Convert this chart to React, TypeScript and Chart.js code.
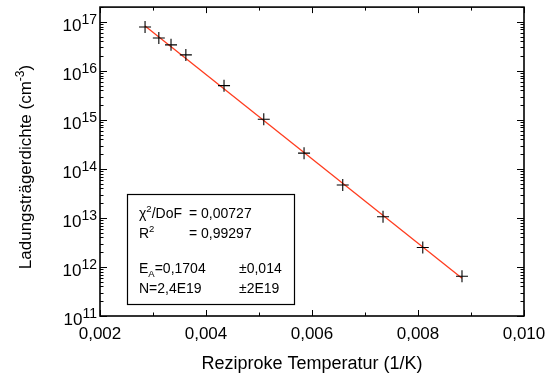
import { useEffect, useRef } from "react";
import { Chart, registerables } from "chart.js";

Chart.register(...registerables);

// Measured data (reciprocal temperature in 1/K, carrier density in cm^-3)
const reciprocalTemp = [0.00285, 0.00311, 0.00334, 0.00362, 0.00434, 0.00509, 0.00585, 0.00658, 0.00734, 0.00809, 0.00883];
const carrierDensity = [7.85e16, 4.7e16, 3.4e16, 2.12e16, 5.0e15, 1.03e15, 2.1e14, 4.7e13, 1.06e13, 2.5e12, 6.45e11];

// Fitted line endpoints
const fitX = [0.00285, 0.00883];
const fitY = [8.2e16, 5.9e11];

// Axis ticks
const xTicks = [0.002, 0.004, 0.006, 0.008, 0.01];
const xTickLabels = ["0,002", "0,004", "0,006", "0,008", "0,010"];
const xMinorTicks = [0.003, 0.005, 0.007, 0.009];
const yDecades = [11, 12, 13, 14, 15, 16, 17];

// Fit statistics box
const statLines = [
  { label: "χ|2|/DoF", value: "= 0,00727", err: "" },
  { label: "R|2|", value: "= 0,99297", err: "" },
  { label: "E_A_=0,1704", value: "", err: "±0,014" },
  { label: "N=2,4E19", value: "", err: "±2E19" },
];

const FONT = '"Liberation Sans", Arial, Helvetica, sans-serif';

type Part = { t: string; size: number; dy: number };

function parseRich(s: string, size: number): Part[] {
  // |x| = superscript, _x_ = subscript
  const parts: Part[] = [];
  const re = /\|([^|]*)\||_([^_]*)_|([^|_]+)/g;
  let m: RegExpExecArray | null;
  while ((m = re.exec(s))) {
    if (m[1] !== undefined) parts.push({ t: m[1], size: size * 0.68, dy: -size * 0.42 });
    else if (m[2] !== undefined) parts.push({ t: m[2], size: size * 0.68, dy: size * 0.25 });
    else parts.push({ t: m[3], size, dy: 0 });
  }
  return parts;
}

function drawParts(ctx: CanvasRenderingContext2D, parts: Part[], x: number, y: number) {
  let cx = x;
  for (const p of parts) {
    ctx.font = `${p.size}px ${FONT}`;
    ctx.fillText(p.t, cx, y + p.dy);
    cx += ctx.measureText(p.t).width;
  }
  return cx;
}

function partsWidth(ctx: CanvasRenderingContext2D, parts: Part[]) {
  let w = 0;
  for (const p of parts) {
    ctx.font = `${p.size}px ${FONT}`;
    w += ctx.measureText(p.t).width;
  }
  return w;
}

const decorPlugin = {
  id: "decor",
  afterDatasetsDraw(chart: any) {
    const ctx: CanvasRenderingContext2D = chart.ctx;
    const { left, right, top, bottom } = chart.chartArea;
    const xs = chart.scales.x;
    const ys = chart.scales.y;
    ctx.save();
    ctx.strokeStyle = "#000";
    ctx.fillStyle = "#000";

    // ticks
    ctx.lineWidth = 1;
    ctx.beginPath();
    const xt = (v: number, len: number) => {
      const px = Math.round(xs.getPixelForValue(v)) + 0.5;
      ctx.moveTo(px, bottom);
      ctx.lineTo(px, bottom - len);
      ctx.moveTo(px, top);
      ctx.lineTo(px, top + len);
    };
    xTicks.forEach((v) => xt(v, 6));
    xMinorTicks.forEach((v) => xt(v, 3.5));
    for (const d of yDecades) {
      for (let m = 1; m <= 9; m++) {
        const v = m * Math.pow(10, d);
        if (v > ys.max * 1.0001 || v < ys.min * 0.9999) continue;
        const py = Math.round(ys.getPixelForValue(v)) + 0.5;
        const len = m === 1 ? 7 : 3.5;
        ctx.moveTo(left, py);
        ctx.lineTo(left + len, py);
        ctx.moveTo(right, py);
        ctx.lineTo(right - len, py);
      }
    }
    ctx.stroke();

    // frame
    ctx.lineWidth = 1.6;
    ctx.strokeRect(left, top, right - left, bottom - top);

    // x tick labels
    ctx.textBaseline = "alphabetic";
    ctx.textAlign = "center";
    ctx.font = `17px ${FONT}`;
    xTicks.forEach((v, i) => {
      ctx.fillText(xTickLabels[i], xs.getPixelForValue(v), bottom + 23);
    });

    // y tick labels 10^n
    ctx.textAlign = "left";
    for (const d of yDecades) {
      const py = ys.getPixelForValue(Math.pow(10, d));
      ctx.font = `14px ${FONT}`;
      const ew = ctx.measureText(String(d)).width;
      ctx.font = `17px ${FONT}`;
      const bw = ctx.measureText("10").width;
      const xEnd = left - 3;
      ctx.fillText("10", xEnd - ew - bw, py + 9);
      ctx.font = `14px ${FONT}`;
      ctx.fillText(String(d), xEnd - ew, py + 2);
    }

    // x title
    ctx.textAlign = "center";
    ctx.font = `18px ${FONT}`;
    ctx.fillText("Reziproke Temperatur (1/K)", (left + right) / 2, 369);

    // y title (rotated)
    ctx.textAlign = "left";
    const yParts: Part[] = [
      { t: "Ladungsträgerdichte (cm", size: 17, dy: 0 },
      { t: "-3", size: 12, dy: -7 },
      { t: ")", size: 17, dy: 0 },
    ];
    const tw = partsWidth(ctx, yParts);
    ctx.save();
    ctx.translate(31, 167);
    ctx.rotate(-Math.PI / 2);
    drawParts(ctx, yParts, -tw / 2, 0);
    ctx.restore();

    // stats box
    const bx = 127, by = 194, bw2 = 167, bh = 110;
    ctx.fillStyle = "#fff";
    ctx.fillRect(bx, by, bw2, bh);
    ctx.lineWidth = 1.2;
    ctx.strokeRect(bx + 0.5, by + 0.5, bw2, bh);
    ctx.fillStyle = "#000";
    const baselines = [218, 238, 273, 293];
    statLines.forEach((ln, i) => {
      drawParts(ctx, parseRich(ln.label, 14), 139, baselines[i]);
      if (ln.value) drawParts(ctx, parseRich(ln.value, 14), 189, baselines[i]);
      if (ln.err) drawParts(ctx, parseRich(ln.err, 14), 239, baselines[i]);
    });

    ctx.restore();
  },
};

export default function App() {
  const ref = useRef<HTMLCanvasElement | null>(null);
  useEffect(() => {
    document.body.style.margin = "0";
    const canvas = ref.current;
    if (!canvas) return;
    const points = reciprocalTemp.map((x, i) => ({ x, y: carrierDensity[i] }));
    const fit = fitX.map((x, i) => ({ x, y: fitY[i] }));
    const chart = new Chart(canvas, {
      type: "scatter",
      data: {
        datasets: [
          {
            label: "Messwerte",
            data: points,
            pointStyle: "cross",
            pointRadius: 6,
            pointBorderWidth: 1.1,
            borderColor: "#000",
            backgroundColor: "#000",
            showLine: false,
            order: 0,
          },
          {
            label: "Fit",
            data: fit,
            showLine: true,
            borderColor: "#ff3c1e",
            borderWidth: 1.3,
            pointRadius: 0,
            order: 1,
          },
        ],
      },
      options: {
        responsive: false,
        animation: false,
        devicePixelRatio: 1,
        layout: { padding: { left: 100, right: 29, top: 5, bottom: 62 } },
        plugins: { legend: { display: false }, tooltip: { enabled: false } },
        scales: {
          x: { type: "linear", min: 0.002, max: 0.01, display: false },
          y: { type: "logarithmic", min: 1e11, max: 2e17, display: false },
        },
      },
      plugins: [decorPlugin],
    });
    return () => chart.destroy();
  }, []);
  return <canvas ref={ref} width={553} height={378} style={{ display: "block" }} />;
}
